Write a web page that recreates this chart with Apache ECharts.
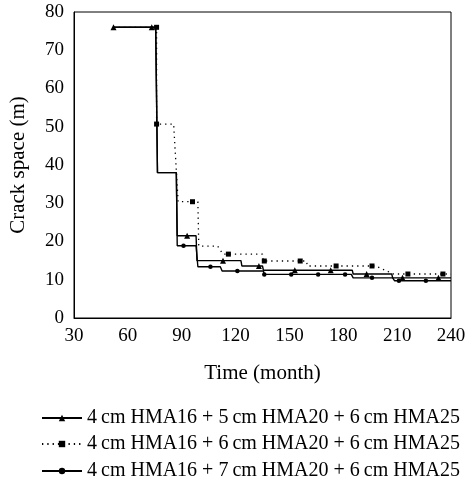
<!DOCTYPE html>
<html>
<head>
<meta charset="utf-8">
<script src="https://cdn.jsdelivr.net/npm/echarts@6/dist/echarts.min.js"></script>
<style>html,body{margin:0;padding:0;background:#fff}#c{width:471px;height:480px}</style>
</head>
<body>
<div id="c"></div>
<script>
// Series names
var seriesNames = [
  '4\u2009cm HMA16 + 5\u2009cm HMA20 + 6\u2009cm HMA25',
  '4\u2009cm HMA16 + 6\u2009cm HMA20 + 6\u2009cm HMA25',
  '4\u2009cm HMA16 + 7\u2009cm HMA20 + 6\u2009cm HMA25'
];
// Axis ticks
var xTicks = [30, 60, 90, 120, 150, 180, 210, 240];
var yTicks = [0, 10, 20, 30, 40, 50, 60, 70, 80];

// Series 1 (triangles, solid): time, crack space, marker flag
var s1Time  = [52, 73.3, 75.5, 76.5, 87, 87.5, 93, 98, 98.5, 113, 123, 123.5, 133, 135, 135.5, 153, 173, 185, 185.5, 193, 207, 207.5, 213, 233, 240];
var s1Value = [76, 76, 76, 38, 38, 21.5, 21.5, 21.5, 15, 15, 15, 13.6, 13.6, 13.6, 12.5, 12.5, 12.5, 12.5, 11.5, 11.5, 11.5, 10.5, 10.5, 10.5, 10.5];
var s1Mark  = [1, 1, 0, 0, 0, 0, 1, 0, 0, 1, 0, 0, 1, 0, 0, 1, 1, 0, 0, 1, 0, 0, 1, 1, 0];

// Series 2 (squares, dotted)
var s2Time  = [52, 76, 76, 85.5, 88, 96, 99, 99.5, 110, 113, 116, 135, 135.5, 136, 156, 159.5, 160, 176, 196, 198, 208, 216, 235.5, 240];
var s2Value = [76, 76, 50.7, 50.7, 30.4, 30.4, 30.4, 18.8, 18.8, 16.7, 16.7, 16.7, 14.9, 14.9, 14.9, 14.9, 13.6, 13.6, 13.6, 13.6, 11.5, 11.5, 11.5, 11.5];
var s2Mark  = [0, 1, 1, 0, 0, 1, 0, 0, 0, 0, 1, 0, 0, 1, 1, 0, 0, 1, 1, 0, 0, 1, 1, 0];

// Series 3 (circles, solid)
var s3Time  = [52, 75.5, 76.5, 87, 87.5, 91, 98, 99, 106, 111.5, 112.5, 121, 135.5, 136, 151, 166, 181, 184.5, 185.5, 196, 207.5, 208.5, 211, 226, 240];
var s3Value = [76, 76, 38, 38, 18.9, 18.9, 18.9, 13.4, 13.4, 13.4, 12.3, 12.3, 12.3, 11.4, 11.4, 11.4, 11.4, 11.4, 10.5, 10.5, 10.5, 9.75, 9.75, 9.75, 9.75];
var s3Mark  = [0, 0, 0, 0, 0, 1, 0, 0, 1, 0, 0, 1, 0, 1, 1, 1, 1, 0, 0, 1, 0, 0, 1, 1, 0];

function build(t, v, m) {
  return t.map(function (x, i) {
    var d = { value: [x, v[i]] };
    if (!m[i]) { d.symbol = 'none'; }
    return d;
  });
}

var FONT = '"Liberation Serif", "DejaVu Serif", serif';
var legendTops = [403, 429, 456];
var legends = seriesNames.map(function (n, i) {
  return {
    orient: 'horizontal',
    left: 36,
    top: legendTops[i],
    itemWidth: 40,
    itemHeight: 8,
    itemGap: 8,
    data: [n],
    textStyle: { fontFamily: FONT, fontSize: 20, color: '#000' }
  };
});

var chart = echarts.init(document.getElementById('c'), null, { renderer: 'canvas' });
chart.setOption({
  animation: false,
  backgroundColor: '#fff',
  textStyle: { fontFamily: FONT, color: '#000' },
  grid: { left: 73, right: 20, top: 12, bottom: 162, show: true, borderColor: '#000', borderWidth: 1, backgroundColor: 'transparent' },
  legend: legends,
  xAxis: {
    type: 'value',
    min: 30, max: 240, interval: 30,
    name: 'Time (month)',
    nameLocation: 'middle',
    nameGap: 45,
    nameTextStyle: { fontFamily: FONT, fontSize: 21, color: '#000' },
    axisLine: { show: true, lineStyle: { color: '#000', width: 1 } },
    axisTick: { show: false },
    splitLine: { show: false },
    axisLabel: { fontFamily: FONT, fontSize: 19, color: '#000', margin: 9,
      customValues: xTicks }
  },
  yAxis: {
    type: 'value',
    min: 0, max: 80, interval: 10,
    name: 'Crack space (m)',
    nameLocation: 'middle',
    nameGap: 45,
    nameTextStyle: { fontFamily: FONT, fontSize: 21, color: '#000' },
    axisLine: { show: true, lineStyle: { color: '#000', width: 1 } },
    axisTick: { show: false },
    splitLine: { show: false },
    axisLabel: { fontFamily: FONT, fontSize: 19, color: '#000', margin: 10,
      customValues: yTicks }
  },
  series: [
    {
      name: seriesNames[0], type: 'line',
      data: build(s1Time, s1Value, s1Mark),
      symbol: 'triangle', symbolSize: 6, showAllSymbol: true,
      itemStyle: { color: '#000' },
      lineStyle: { color: '#000', width: 1.4 }
    },
    {
      name: seriesNames[1], type: 'line',
      data: build(s2Time, s2Value, s2Mark),
      symbol: 'rect', symbolSize: 5, showAllSymbol: true,
      itemStyle: { color: '#000' },
      lineStyle: { color: '#000', width: 1.3, type: [1.3, 4] }
    },
    {
      name: seriesNames[2], type: 'line',
      data: build(s3Time, s3Value, s3Mark),
      symbol: 'circle', symbolSize: 4.5, showAllSymbol: true,
      itemStyle: { color: '#000' },
      lineStyle: { color: '#000', width: 1.4 }
    }
  ]
});
</script>
</body>
</html>
